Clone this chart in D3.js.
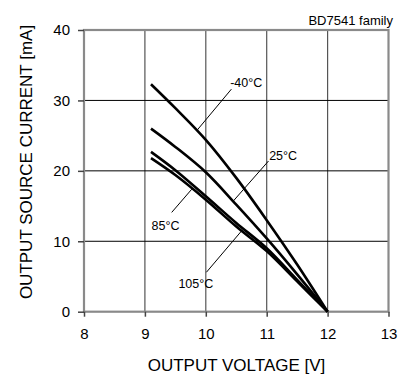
<!doctype html>
<html>
<head>
<meta charset="utf-8">
<script src="https://d3js.org/d3.v7.min.js"></script>
<style>
  body { margin: 0; background: #fff; }
  text { font-family: "Liberation Sans", Arial, sans-serif; fill: #000; }
</style>
</head>
<body>
<svg width="398" height="374"></svg>
<script>
// ---- data ----
var voltage = [9.1, 9.5, 10, 10.5, 11, 11.5, 12];
var temps = ["-40°C", "25°C", "85°C", "105°C"];
var currentM40 = [32.3, 28.9, 24.4, 19.0, 13.0, 6.7, 0];
var current25 = [26.0, 23.4, 19.8, 15.2, 10.4, 5.3, 0];
var current85 = [22.7, 20.1, 16.4, 12.6, 9.0, 4.5, 0];
var current105 = [21.8, 19.4, 15.9, 12.1, 8.6, 4.3, 0];
var xTicks = [8, 9, 10, 11, 12, 13];
var yTicks = [0, 10, 20, 30, 40];

// label anchor [x, y] and leader line [x1, y1, x2, y2] in data units
var labelPos = [[10.40, 31.9], [11.04, 21.5], [9.11, 11.6], [9.55, 3.4]];
var leaders = [
  [10.42, 31.6, 9.86, 25.8],
  [11.03, 21.4, 10.45, 15.7],
  [9.44, 14.1, 9.77, 17.4],
  [10.01, 5.6, 10.6, 11.6]
];

var series = [currentM40, current25, current85, current105];

var svg = d3.select("svg");
var x = d3.scaleLinear().domain([8, 13]).range([84, 388.5]);
var y = d3.scaleLinear().domain([0, 40]).range([311.7, 30]);

// grid
svg.selectAll(".vgrid")
  .data(xTicks.slice(1, -1))
  .enter().append("line")
  .attr("x1", d => x(d)).attr("x2", d => x(d))
  .attr("y1", y(40)).attr("y2", y(0))
  .style("stroke", "#555").style("stroke-width", 1.2);

svg.selectAll(".hgrid")
  .data(yTicks.slice(1, -1))
  .enter().append("line")
  .attr("x1", x(8)).attr("x2", x(13))
  .attr("y1", d => y(d)).attr("y2", d => y(d))
  .style("stroke", "#000").style("stroke-width", 1);

// frame
svg.append("rect")
  .attr("x", x(8)).attr("y", y(40))
  .attr("width", x(13) - x(8)).attr("height", y(0) - y(40))
  .style("fill", "none").style("stroke", "#8a8a8a").style("stroke-width", 2.2);

// axes
var xAxis = svg.append("g")
  .attr("transform", "translate(0," + y(0) + ")")
  .call(d3.axisBottom(x).tickValues(xTicks).tickSize(5).tickPadding(12).tickFormat(d3.format("d")));
var yAxis = svg.append("g")
  .attr("transform", "translate(" + x(8) + ",0)")
  .call(d3.axisLeft(y).tickValues(yTicks).tickSize(6).tickPadding(8).tickFormat(d3.format("d")));
[xAxis, yAxis].forEach(function (a) {
  a.select(".domain").remove();
  a.selectAll(".tick line").style("stroke", "#444").style("stroke-width", 1.5);
  a.selectAll(".tick text").style("font-size", "15px")
    .style("font-family", "'Liberation Sans', Arial, sans-serif").attr("fill", "#000");
});

// curves
var line = d3.line()
  .x((d, i) => x(voltage[i]))
  .y(d => y(d))
  .curve(d3.curveCatmullRom);

svg.selectAll(".curve")
  .data(series)
  .enter().append("path")
  .attr("d", line)
  .style("fill", "none")
  .style("stroke", "#000")
  .style("stroke-width", 2.6);

// leaders and labels
svg.selectAll(".leader")
  .data(leaders)
  .enter().append("line")
  .attr("x1", d => x(d[0])).attr("y1", d => y(d[1]))
  .attr("x2", d => x(d[2])).attr("y2", d => y(d[3]))
  .style("stroke", "#000").style("stroke-width", 1);

svg.selectAll(".tlabel")
  .data(temps)
  .enter().append("text")
  .attr("x", (d, i) => x(labelPos[i][0]))
  .attr("y", (d, i) => y(labelPos[i][1]))
  .style("font-size", "12.5px")
  .text(d => d);

// titles
svg.append("text")
  .attr("x", 393).attr("y", 24.5)
  .attr("text-anchor", "end")
  .style("font-size", "13px")
  .text("BD7541 family");

svg.append("text")
  .attr("x", 236.5).attr("y", 371)
  .attr("text-anchor", "middle")
  .style("font-size", "17px")
  .text("OUTPUT VOLTAGE [V]");

svg.append("text")
  .attr("transform", "translate(32,162) rotate(-90)")
  .attr("text-anchor", "middle")
  .style("font-size", "17px")
  .text("OUTPUT SOURCE CURRENT [mA]");
</script>
</body>
</html>
